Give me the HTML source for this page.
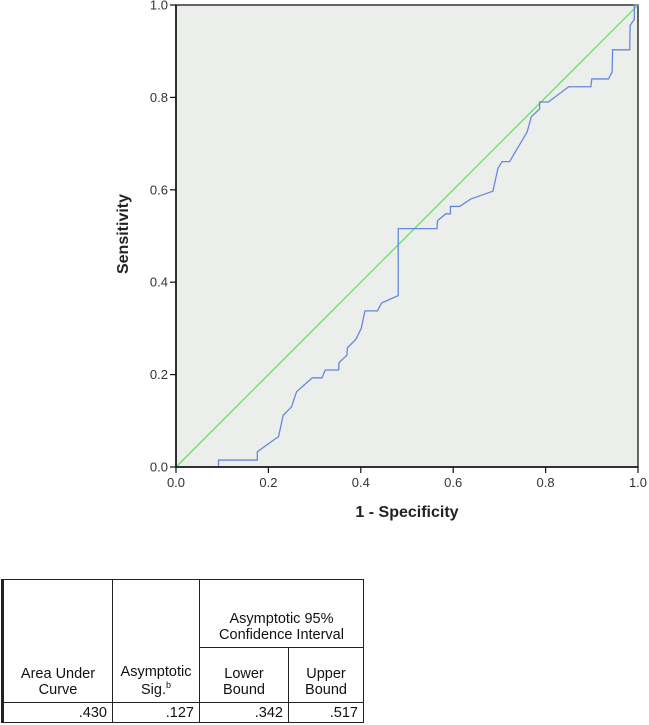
<!DOCTYPE html>
<html><head><meta charset="utf-8"><style>
body{margin:0;background:#fff;width:649px;height:725px;overflow:hidden;font-family:"Liberation Sans",sans-serif;}
svg{position:absolute;left:0;top:0}
table{position:absolute;left:1px;top:579px;border-collapse:collapse;font-size:14.5px;color:#111;table-layout:fixed}
td{border:1.5px solid #222;padding:0 5px;}
</style></head><body>
<svg width="649" height="560" id="chart"></svg>
<table>
<tr style="height:68px"><td rowspan="2" style="width:98px;text-align:center;vertical-align:bottom;padding-bottom:4px;border-left:3px solid #222">Area Under<br>Curve</td>
<td rowspan="2" style="width:76px;text-align:center;vertical-align:bottom;padding-bottom:4px">Asymptotic<br>Sig.<sup style="font-size:9px">b</sup></td>
<td colspan="2" style="text-align:center;vertical-align:bottom;padding-bottom:4px">Asymptotic 95%<br>Confidence Interval</td></tr>
<tr style="height:55px"><td style="width:78px;text-align:center;vertical-align:bottom;padding-bottom:4px">Lower<br>Bound</td>
<td style="width:64px;text-align:center;vertical-align:bottom;padding-bottom:4px">Upper<br>Bound</td></tr>
<tr style="height:20px"><td style="text-align:right;border-left:3px solid #222">.430</td><td style="text-align:right">.127</td><td style="text-align:right">.342</td><td style="text-align:right">.517</td></tr>
</table>
<script>
const xTicks=[0,0.2,0.4,0.6,0.8,1.0];
const yTicks=[0,0.2,0.4,0.6,0.8,1.0];
const fpr=[0.092,0.092,0.176,0.176,0.222,0.232,0.250,0.261,0.295,0.316,0.323,0.352,0.353,0.370,0.371,0.389,0.401,0.409,0.436,0.445,0.481,0.481,0.565,0.566,0.584,0.594,0.594,0.614,0.638,0.686,0.697,0.706,0.722,0.760,0.769,0.787,0.787,0.806,0.850,0.898,0.900,0.936,0.944,0.945,0.982,0.983,0.992,0.992,1];
const tpr=[0,0.015,0.015,0.033,0.066,0.112,0.130,0.163,0.193,0.193,0.210,0.210,0.226,0.242,0.258,0.276,0.300,0.338,0.338,0.355,0.371,0.516,0.516,0.533,0.548,0.548,0.564,0.564,0.580,0.597,0.647,0.661,0.661,0.725,0.758,0.775,0.790,0.790,0.823,0.823,0.840,0.840,0.855,0.903,0.903,0.956,0.969,1,1];
const ref=[0,1];
const X0=176,X1=638,Y0=467,Y1=5;
const sx=v=>X0+v*(X1-X0), sy=v=>Y0-v*(Y0-Y1);
const svg=document.getElementById('chart');const NS='http://www.w3.org/2000/svg';
function mk(t,a,p){const e=document.createElementNS(NS,t);for(const k in a)e.setAttribute(k,a[k]);(p||svg).appendChild(e);return e;}
const bg=mk('rect',{x:X0,y:Y1,width:X1-X0,height:Y0-Y1,fill:'#eceeeb',stroke:'#333','stroke-width':1.5});


const rl=mk('line',{x1:sx(ref[0]),y1:sy(ref[0]),x2:sx(ref[1]),y2:sy(ref[1]),stroke:'#66dd66','stroke-width':1.3});


const pl=mk('polyline',{points:fpr.map((v,i)=>sx(v)+','+sy(tpr[i])).join(' '),fill:'none',stroke:'#6688dd','stroke-width':1.3});


mk('line',{x1:X0,y1:Y1,x2:X0,y2:Y0,stroke:'#111','stroke-width':1.5});
mk('line',{x1:X0,y1:Y0,x2:X1,y2:Y0,stroke:'#111','stroke-width':1.5});
xTicks.forEach(v=>{mk('line',{x1:sx(v),y1:Y0,x2:sx(v),y2:Y0+6,stroke:'#111','stroke-width':1.2});
const t=mk('text',{x:sx(v),y:Y0+20,'text-anchor':'middle','font-size':13,fill:'#333'});t.textContent=v.toFixed(1);

});
yTicks.forEach(v=>{mk('line',{x1:X0-6,y1:sy(v),x2:X0,y2:sy(v),stroke:'#111','stroke-width':1.2});
const t=mk('text',{x:X0-8,y:sy(v)+4.5,'text-anchor':'end','font-size':13,fill:'#333'});t.textContent=v.toFixed(1);

});
const xt=mk('text',{x:407,y:517,'text-anchor':'middle','font-size':16,'font-weight':'bold',fill:'#222'});xt.textContent='1 - Specificity';


const yt=mk('text',{x:0,y:0,'text-anchor':'middle','font-size':16,'font-weight':'bold',fill:'#222',transform:'translate(128,234) rotate(-90)'});yt.textContent='Sensitivity';


</script>
</body></html>
